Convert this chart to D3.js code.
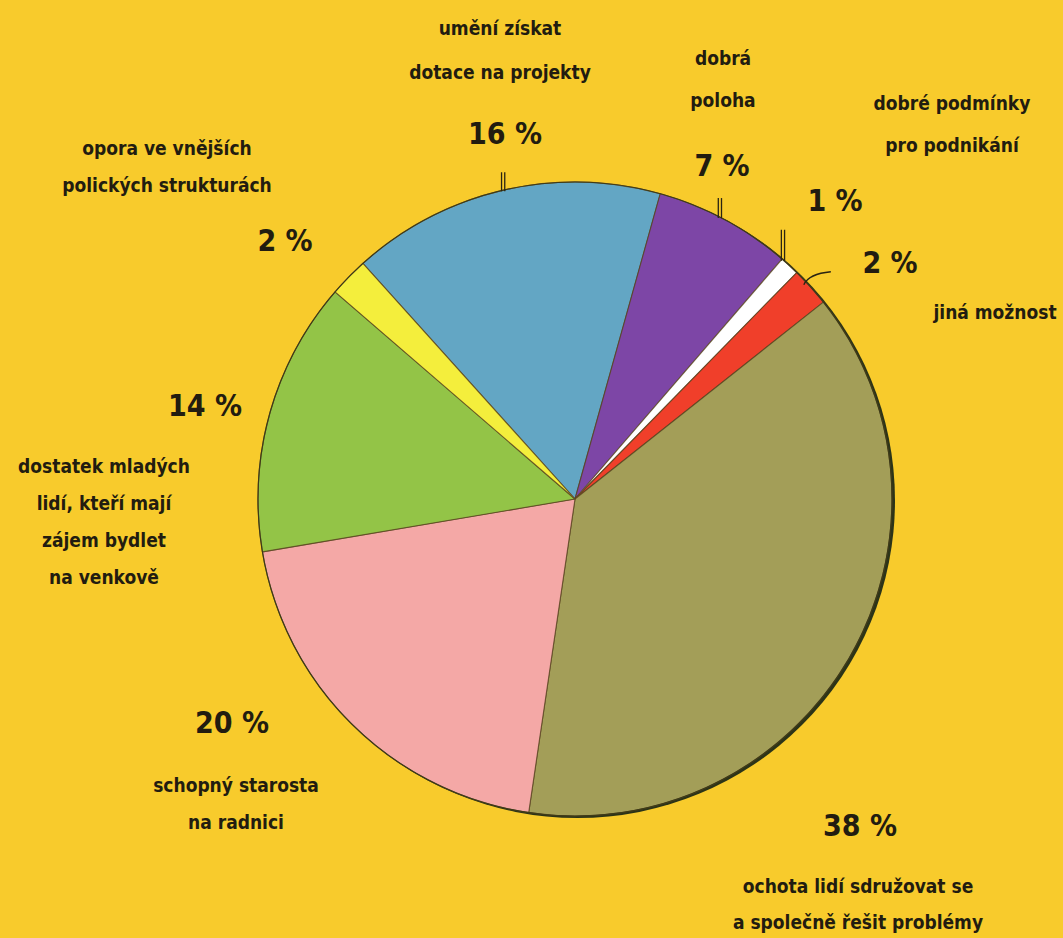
<!DOCTYPE html>
<html>
<head>
<meta charset="utf-8">
<script src="https://cdn.jsdelivr.net/npm/d3@7"></script>
<style>
  html, body { margin: 0; padding: 0; background: #f8cb2c; }
  svg { display: block; }
</style>
</head>
<body>
<svg id="chart" width="1063" height="938"></svg>
<script>
// ---- data ----
const categories = [
  "umění získat dotace na projekty",
  "dobrá poloha",
  "dobré podmínky pro podnikání",
  "jiná možnost",
  "ochota lidí sdružovat se a společně řešit problémy",
  "schopný starosta na radnici",
  "dostatek mladých lidí, kteří mají zájem bydlet na venkově",
  "opora ve vnějších polických strukturách"
];
const values = [16, 7, 1, 2, 38, 20, 14, 2];
const labelLines = [
  ["umění získat", "dotace na projekty"],
  ["dobrá", "poloha"],
  ["dobré podmínky", "pro podnikání"],
  ["jiná možnost"],
  ["ochota lidí sdružovat se", "a společně řešit problémy"],
  ["schopný starosta", "na radnici"],
  ["dostatek mladých", "lidí, kteří mají", "zájem bydlet", "na venkově"],
  ["opora ve vnějších", "polických strukturách"]
];
const pctLabels = values.map(v => v + " %");

// ---- styling / layout (not data) ----
const colors = ["#63a6c4", "#7d46a6", "#ffffff", "#f03f2a", "#a39e58", "#f4a8a6", "#93c447", "#f4ee3c"];
const W = 1063, H = 938;
const cx = 575, cy = 499, R = 317;
// label anchors: text block center x, first line center y, line spacing, pct center
const layout = [
  { x: 500, y: 28,  dy: 44, px: 505, py: 133 },
  { x: 723, y: 58,  dy: 42, px: 722, py: 165 },
  { x: 952, y: 103, dy: 42, px: 835, py: 200 },
  { x: 995, y: 312, dy: 37, px: 890, py: 262 },
  { x: 858, y: 886, dy: 36, px: 860, py: 825 },
  { x: 236, y: 785, dy: 37, px: 232, py: 722 },
  { x: 104, y: 466, dy: 37, px: 205, py: 405 },
  { x: 167, y: 148, dy: 37, px: 285, py: 240 }
];
// small leader marks at the rim: angle (deg, clockwise from top) and length
const ticks = [
  { a: -13.1, len: 18 },
  { a: 27.2,  len: 19 },
  { a: 41.0,  len: 30 }
];

const svg = d3.select("#chart");
svg.append("rect").attr("width", W).attr("height", H).attr("fill", "#f8cb2c");

const g = svg.append("g").attr("transform", `translate(${cx},${cy})`);

const start = -42 * Math.PI / 180;
const pie = d3.pie().sort(null).value(d => d).startAngle(start).endAngle(start + 2 * Math.PI);
const arcs = pie(values);
const arc = d3.arc().innerRadius(0).outerRadius(R);

// shadow edge (thicker on right/bottom)
g.append("circle").attr("cx", 2.5).attr("cy", 1.5).attr("r", R + 0.5).attr("fill", "#2c3418");

g.selectAll("path.slice").data(arcs).enter().append("path")
  .attr("class", "slice")
  .attr("d", arc)
  .attr("fill", (d, i) => colors[i])
  .attr("stroke", "#5a4420")
  .attr("stroke-opacity", 0.75)
  .attr("stroke-width", 1.1)
  .attr("stroke-linejoin", "round");

g.append("circle").attr("r", R).attr("fill", "none").attr("stroke", "#3d3a18").attr("stroke-width", 1.2);

// leader ticks (double vertical lines)
ticks.forEach(t => {
  const a = t.a * Math.PI / 180;
  const x = R * Math.sin(a), y = -R * Math.cos(a);
  [-1.6, 1.6].forEach(o => {
    g.append("line")
      .attr("x1", x + o).attr("x2", x + o)
      .attr("y1", y + 1).attr("y2", y - t.len)
      .attr("stroke", "#2a2412").attr("stroke-width", 1.3);
  });
});
// hook for "jiná možnost"
{
  const a = 47 * Math.PI / 180;
  const x = R * Math.sin(a), y = -R * Math.cos(a);
  g.append("path")
    .attr("d", `M${x - 3},${y + 2} Q${x + 2},${y - 9} ${x + 24},${y - 11}`)
    .attr("fill", "none").attr("stroke", "#2a2412").attr("stroke-width", 1.4);
}

// labels
const font = "'DejaVu Sans Condensed', 'Liberation Sans Narrow', sans-serif";
const txt = svg.append("g").attr("fill", "#221c10").attr("font-family", font);

labelLines.forEach((lines, i) => {
  const L = layout[i];
  lines.forEach((s, j) => {
    txt.append("text")
      .attr("x", L.x).attr("y", L.y + j * L.dy)
      .attr("dy", "0.35em")
      .attr("text-anchor", "middle")
      .attr("font-size", 19)
      .attr("font-weight", "bold")
      .text(s);
  });
  txt.append("text")
    .attr("x", L.px).attr("y", L.py)
    .attr("dy", "0.36em")
    .attr("text-anchor", "middle")
    .attr("font-size", 30)
    .attr("font-weight", "bold")
    .text(pctLabels[i]);
});
</script>
</body>
</html>
